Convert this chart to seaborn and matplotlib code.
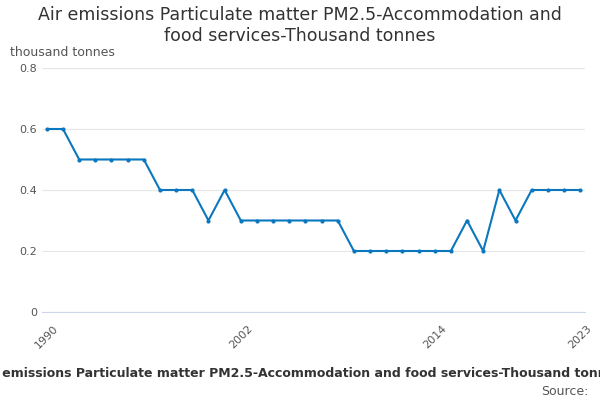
import matplotlib
matplotlib.use("Agg")
import matplotlib.pyplot as plt
import seaborn as sns
import pandas as pd

years = list(range(1990, 2024))
values = [0.6, 0.6, 0.5, 0.5, 0.5, 0.5, 0.5, 0.4, 0.4, 0.4, 0.3, 0.4,
          0.3, 0.3, 0.3, 0.3, 0.3, 0.3, 0.3, 0.2, 0.2, 0.2, 0.2, 0.2,
          0.2, 0.2, 0.3, 0.2, 0.4, 0.3, 0.4, 0.4, 0.4, 0.4]
label_years = [1990, 2002, 2014, 2023]
tick_years = list(range(1990, 2024, 3))

df = pd.DataFrame({"year": years, "value": values})

sns.set_style("white")
fig, ax = plt.subplots(figsize=(6, 4), dpi=100)
fig.subplots_adjust(left=0.07, right=0.975, top=0.83, bottom=0.22)

sns.lineplot(data=df, x="year", y="value", color="#0a77be", linewidth=1.5,
             marker="o", markersize=3, markeredgewidth=0, ax=ax)

ax.set_ylim(0, 0.8)
ax.set_yticks([0, 0.2, 0.4, 0.6, 0.8])
ax.set_yticklabels(["0", "0.2", "0.4", "0.6", "0.8"])
ax.set_xlim(1989.7, 2023.3)
ax.set_xticks(tick_years)
ax.set_xticklabels([str(y) if y in label_years else "" for y in tick_years], rotation=45)
ax.tick_params(axis="x", length=5, color="#ccd6eb", labelsize=8, labelcolor="#555555")
ax.tick_params(axis="y", length=0, labelsize=8, labelcolor="#555555")
ax.grid(axis="y", color="#e6e6e6", linewidth=0.8)
for s in ["top", "right", "left"]:
    ax.spines[s].set_visible(False)
ax.spines["bottom"].set_color("#ccd6eb")
ax.set_xlabel("")
ax.set_ylabel("")

fig.suptitle("Air emissions Particulate matter PM2.5-Accommodation and\nfood services-Thousand tonnes",
             fontsize=12.5, color="#333333", y=0.985)
fig.text(0.017, 0.86, "thousand tonnes", fontsize=9, color="#555555")
fig.text(0.5, 0.058, "Air emissions Particulate matter PM2.5-Accommodation and food services-Thousand tonnes",
         ha="center", fontsize=9, fontweight="bold", color="#333333")
fig.text(0.98, 0.012, "Source:", ha="right", fontsize=9, color="#555555")

fig.savefig("out.png", dpi=100)
